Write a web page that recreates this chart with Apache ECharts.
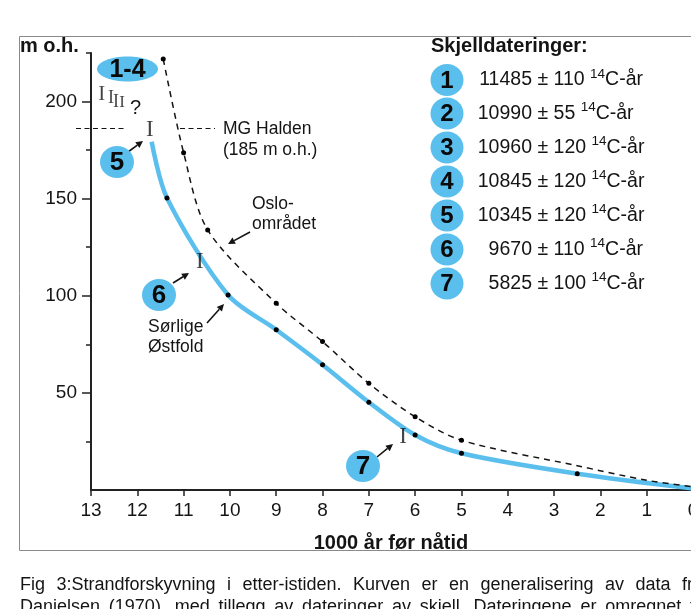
<!DOCTYPE html>
<html><head><meta charset="utf-8">
<script src="https://cdn.jsdelivr.net/npm/echarts@6/dist/echarts.min.js"></script>
<style>html,body{margin:0;padding:0;overflow:hidden;background:#fff}#c{width:691px;height:609px}</style>
</head><body><div id="c"></div>
<script>
// ---- data ----
const ostfoldX   = [11.69, 11.36, 10.04, 9, 8, 7, 6, 5, 2.5, 0];
const ostfoldY   = [179.3, 150.4, 100.4, 82.5, 64.5, 45.2, 28.3, 18.9, 8.4, 0.8];
const ostfoldDot = [false, true, true, true, true, true, true, true, true, false];
const osloX   = [11.44, 11, 10.48, 9, 8, 7, 6, 5, 2.5, 1, 0];
const osloY   = [221.9, 173.7, 133.9, 96.1, 76.4, 54.9, 37.7, 25.6, 12.5, 5, 1.7];
const osloDot = [true, true, true, true, true, true, true, true, false, false, false];
const datingNo  = ['1','2','3','4','5','6','7'];
const datingC14 = [11485, 10990, 10960, 10845, 10345, 9670, 5825];
const datingErr = [110, 55, 120, 120, 120, 110, 100];
// position of each dating's error bar (age in 1000 yr, height m o.h.)
const barX = [12.77, 12.57, 12.46, 12.33, 11.73, 10.65, 6.26];
const barY = [203.7, 201.9, 199.8, 199.3, 185.4, 117.4, 27.3];
const barSize = [21, 18, 18, 17, 23, 23, 23];
const yMajor = [50, 100, 150, 200];
const yMinor = [25, 75, 125, 175, 225];
const xTickLabels = ['0','1','2','3','4','5','6','7','8','9','10','11','12','13'];
const yName = 'm o.h.';
const xName = '1000 år før nåtid';
const legendTitle = 'Skjelldateringer:';
const captionLines = [
  'Fig 3:Strandforskyvning i etter-istiden. Kurven er en generalisering av data fra',
  'Danielsen (1970), med tillegg av dateringer av skjell. Dateringene er omregnet til'
];

const FONT = "'Liberation Sans', Arial, sans-serif";
const BLUE = '#5bbfee';
const INK = '#141414';

const chart = echarts.init(document.getElementById('c'), null, {renderer: 'canvas'});

function pts(xs, ys, dots) {
  return xs.map((x, i) => ({value: [x, ys[i]], symbol: dots[i] ? 'circle' : 'none'}));
}

const ctx = document.createElement('canvas').getContext('2d');
function tw(text, font) { ctx.font = font; return ctx.measureText(text).width; }

const g = [];
// frame
g.push({type: 'polyline', silent: true, shape: {points: [[700, 36.5], [19.5, 36.5], [19.5, 550.5], [700, 550.5]]},
  style: {stroke: '#8a8a8a', lineWidth: 1, fill: null}});
// MG Halden reference line
g.push({type: 'line', shape: {x1: 76, y1: 128.5, x2: 124, y2: 128.5}, style: {stroke: INK, lineWidth: 1, lineDash: [5, 3.5]}});
g.push({type: 'line', shape: {x1: 180, y1: 128.5, x2: 215, y2: 128.5}, style: {stroke: INK, lineWidth: 1, lineDash: [5, 3.5]}});

function txt(x, y, text, size, opts) {
  opts = opts || {};
  return {type: 'text', x: x, y: y, silent: true, style: Object.assign({
    text: text, font: (opts.bold ? 'bold ' : '') + size + 'px ' + (opts.family || FONT), fill: INK,
    align: opts.align || 'left', verticalAlign: 'middle'}, opts.style || {})};
}
g.push(txt(20, 46, yName, 20, {bold: true}));
g.push(txt(391, 543, xName, 20, {bold: true, align: 'center'}));
g.push(txt(223, 129, 'MG Halden', 17.5));
g.push(txt(223, 150, '(185 m o.h.)', 17.5));
g.push(txt(252, 204, 'Oslo-', 17.5));
g.push(txt(252, 224, 'området', 17.5));
g.push(txt(148, 327, 'Sørlige', 17.5));
g.push(txt(148, 347, 'Østfold', 17.5));
g.push(txt(130, 108, '?', 20));

function arrow(x1, y1, x2, y2) {
  const a = Math.atan2(y2 - y1, x2 - x1), L = 7, W = 3.5;
  const bx = x2 - L * Math.cos(a), by = y2 - L * Math.sin(a);
  g.push({type: 'line', silent: true, shape: {x1: x1, y1: y1, x2: bx, y2: by}, style: {stroke: INK, lineWidth: 1.6}});
  g.push({type: 'polygon', silent: true, shape: {points: [[x2, y2],
    [bx + W * Math.sin(a), by - W * Math.cos(a)], [bx - W * Math.sin(a), by + W * Math.cos(a)]]}, style: {fill: INK}});
}
arrow(128, 152, 143, 141);
arrow(173, 283, 189, 273);
arrow(377, 457, 393, 444);
arrow(250, 232, 228, 244);
arrow(207, 323, 224, 304);

function badge(cx, cy, label, size, rx, ry) {
  g.push({type: 'ellipse', silent: true, shape: {cx: cx, cy: cy, rx: rx, ry: ry}, style: {fill: BLUE}});
  g.push(txt(cx, cy + 1, label, size, {bold: true, align: 'center', style: {fill: '#0a0a0a'}}));
}
badge(127.5, 69, '1-4', 25, 30.5, 12.5);
badge(117, 162, datingNo[4], 26, 17, 16);
badge(159, 295, datingNo[5], 26, 17, 16);
badge(363, 466, datingNo[6], 26, 17, 16);

// legend of datings
g.push(txt(431, 46, legendTitle, 20, {bold: true}));
const rowY = [80, 113.5, 147.5, 181.5, 215.5, 249.5, 283.5];
datingNo.forEach((n, i) => {
  badge(447, rowY[i], n, 24, 16.5, 16);
  const f = '19.5px ' + FONT;
  const xr = 532;
  g.push(txt(xr, rowY[i], String(datingC14[i]), 19.5, {align: 'right'}));
  const mid = ' ± ' + datingErr[i] + ' ';
  g.push(txt(xr, rowY[i], mid, 19.5));
  const w1 = tw(mid, f);
  g.push(txt(xr + w1, rowY[i] - 6, '14', 13.5));
  const w2 = tw('14', '13.5px ' + FONT);
  g.push(txt(xr + w1 + w2, rowY[i], 'C-år', 19.5));
});

// caption, justified
captionLines.forEach((line, li) => {
  const f = '18px ' + FONT;
  const words = line.split(' ');
  const ws = words.map(w => tw(w, f));
  const total = ws.reduce((a, b) => a + b, 0);
  const x0 = 20, x1 = 703;
  const gap = (x1 - x0 - total) / (words.length - 1);
  let x = x0;
  words.forEach((w, i) => { g.push(txt(x, 585 + li * 22, w, 18)); x += ws[i] + gap; });
});

const axisLineStyle = {color: '#222', width: 2};
const tickStyle = {color: '#222', width: 1.5};
const option = {
  animation: false,
  grid: {left: 91, top: 53, width: 602, height: 437, outerBoundsMode: 'none', containLabel: false},
  xAxis: {
    type: 'value', min: 0, max: 13, interval: 1, inverse: true,
    axisLine: {show: true, onZero: false, lineStyle: axisLineStyle},
    axisTick: {show: true, inside: false, length: 6, lineStyle: tickStyle},
    axisLabel: {show: true, margin: 11, fontSize: 19, fontFamily: FONT, color: INK,
      formatter: v => xTickLabels[v]},
    splitLine: {show: false}
  },
  yAxis: [{
    type: 'value', min: 0, max: 225, position: 'left',
    axisLine: {show: true, onZero: false, lineStyle: axisLineStyle},
    axisTick: {show: true, inside: false, length: 9, customValues: yMajor, lineStyle: tickStyle},
    axisLabel: {show: true, customValues: yMajor, margin: 14, fontSize: 19, fontFamily: FONT, color: INK},
    splitLine: {show: false}
  }, {
    // minor ticks: a right-side axis moved onto the left edge; "inside" ticks then point outward-left
    type: 'value', min: 0, max: 225, position: 'right', offset: -602,
    axisLine: {show: false, onZero: false},
    axisTick: {show: true, inside: true, length: 5, customValues: yMinor, lineStyle: tickStyle},
    axisLabel: {show: false},
    splitLine: {show: false}
  }],
  series: [{
    name: 'Sørlige Østfold', type: 'line', smooth: 0.3, clip: false, silent: true,
    data: pts(ostfoldX, ostfoldY, ostfoldDot),
    lineStyle: {color: BLUE, width: 4.5},
    symbolSize: 5, itemStyle: {color: '#000'}, z: 3
  }, {
    name: 'Oslo-området', type: 'line', smooth: 0.3, clip: false, silent: true,
    data: pts(osloX, osloY, osloDot),
    lineStyle: {color: INK, width: 1.5, type: [6, 5]},
    symbolSize: 5, itemStyle: {color: '#000'}, z: 3
  }, {
    name: 'Dateringer', type: 'scatter', silent: true, symbolSize: 1,
    itemStyle: {color: 'rgba(0,0,0,0)'},
    data: barX.map((x, i) => ({value: [x, barY[i]],
      label: {fontSize: barSize[i]}})),
    label: {show: true, position: 'inside', formatter: 'I', color: INK,
      fontFamily: "'Liberation Serif', 'DejaVu Serif', serif"},
    z: 4
  }],
  graphic: g
};
chart.setOption(option);
</script></body></html>
